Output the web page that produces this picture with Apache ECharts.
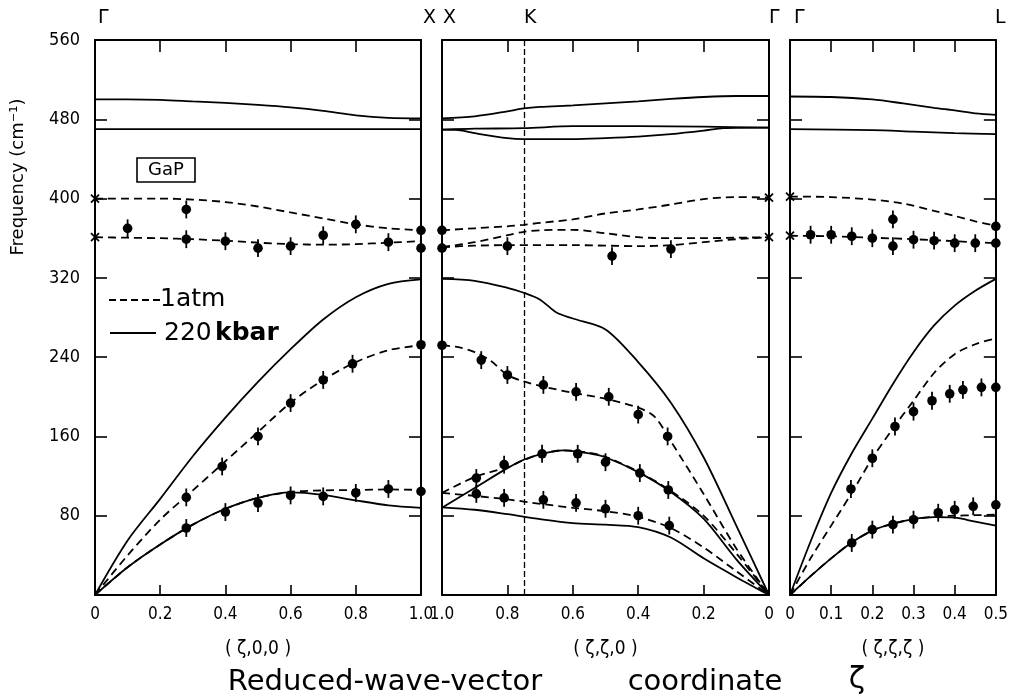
<!DOCTYPE html>
<html>
<head>
<meta charset="utf-8">
<script src="https://cdn.jsdelivr.net/npm/echarts@6/dist/echarts.min.js"></script>
<style>
  html, body { margin: 0; padding: 0; background: #fff; }
  #chart { width: 1011px; height: 698px; }
</style>
</head>
<body>
<div id="chart"></div>
<script>
// GaP phonon dispersion, 1 atm (dashed) vs 220 kbar (solid)
const FONT = "'DejaVu Sans Condensed','DejaVu Sans',sans-serif";
const WIDE = "'DejaVu Sans',sans-serif";

// ---- panel 1: (z,0,0), Gamma -> X ----
const p1Lo220 = [[0,500],[0.1,500],[0.2,499.5],[0.3,498],[0.4,496.5],[0.5,494.5],[0.6,492],[0.7,488.5],[0.8,484],[0.9,481.5],[1.0,481]];
const p1To220 = [[0,470],[0.5,470],[1.0,470]];
const p1OptUp1 = [[0,400],[0.2,400],[0.3,399],[0.4,396.5],[0.5,392],[0.6,386],[0.7,380],[0.8,374],[0.9,370],[1.0,368]];
const p1OptLo1 = [[0,361],[0.1,360.5],[0.2,360],[0.3,359],[0.4,357.5],[0.5,355.5],[0.6,354],[0.7,353.5],[0.8,354],[0.9,355.5],[1.0,357]];
const p1La220 = [[0,0],[0.1,55],[0.2,97],[0.3,140],[0.4,179],[0.5,215],[0.6,248],[0.7,278],[0.8,300.5],[0.9,314],[1.0,318.5]];
const p1La1 = [[0,0],[0.1,40],[0.2,76],[0.3,105.5],[0.4,135],[0.5,164.5],[0.6,194],[0.7,217],[0.8,235],[0.9,247],[1.0,252]];
const p1Ta220 = [[0,0],[0.1,28],[0.2,51],[0.3,71],[0.4,87],[0.5,98],[0.6,103.5],[0.7,101],[0.8,95.5],[0.9,90.5],[1.0,88]];
const p1Ta1 = [[0,0],[0.1,28],[0.2,51],[0.3,71],[0.4,87],[0.5,98],[0.6,104],[0.7,105.5],[0.8,106],[0.9,106.5],[1.0,106]];
const p1Points = [[0.1,370],[0.28,389],[0.28,359],[0.4,357],[0.5,350],[0.6,352],[0.7,363],[0.8,374],[0.9,356],[1.0,368],[1.0,350],
  [0.28,98.5],[0.39,129.7],[0.5,160],[0.6,193.7],[0.7,217],[0.79,233.3],[1.0,252.5],
  [0.28,67.6],[0.4,83.7],[0.5,92.8],[0.6,100.5],[0.7,99.5],[0.8,103],[0.9,107],[1.0,104.5]];
const p1Cross = [[0,400],[0,361]];

// ---- panel 2: (z,z,0), X -> K -> Gamma (reversed axis) ----
const p2Lo220 = [[1.0,481],[0.9,483],[0.8,488],[0.75,491],[0.7,492.5],[0.6,494],[0.5,496],[0.4,498],[0.3,500.5],[0.2,502.5],[0.1,503.5],[0,503.5]];
const p2ToA220 = [[1.0,469.5],[0.9,470.5],[0.75,471],[0.6,473],[0.4,473],[0.2,472.5],[0,471.5]];
const p2ToB220 = [[1.0,469.5],[0.95,469],[0.9,466],[0.8,461],[0.75,460],[0.6,460],[0.5,461],[0.4,462.5],[0.3,465],[0.2,468.5],[0.14,471],[0,471.5]];
const p2OptUp1 = [[1.0,368],[0.9,370],[0.8,372],[0.75,373.5],[0.7,375.5],[0.6,379],[0.5,385],[0.4,389],[0.3,394],[0.2,399.5],[0.1,401.5],[0,401]];
const p2OptMid1 = [[1.0,351],[0.9,356],[0.8,363],[0.75,366.5],[0.7,368],[0.6,368.5],[0.5,365],[0.4,361],[0.3,360],[0.2,360],[0.1,360.5],[0,361]];
const p2OptLo1 = [[1.0,351],[0.9,352.5],[0.8,353],[0.6,353],[0.4,352],[0.3,353],[0.2,356],[0.1,359],[0,361]];
const p2La220 = [[1.0,319],[0.9,317],[0.8,310],[0.75,305],[0.7,298],[0.65,285],[0.6,279],[0.5,268],[0.4,235],[0.3,194],[0.2,139],[0.1,70],[0,0]];
const p2La1 = [[1.0,252],[0.95,250],[0.9,245],[0.85,236],[0.8,222],[0.75,215.5],[0.7,211],[0.6,204],[0.5,198],[0.4,189],[0.35,180],[0.3,155],[0.2,102],[0.1,47],[0,0]];
const p2Ta2_220 = [[1.0,88],[0.9,108],[0.8,128],[0.75,136.5],[0.7,142],[0.63,146],[0.55,143],[0.5,139],[0.4,124],[0.3,104],[0.2,77],[0.1,36],[0,0]];
const p2Ta2_1 = [[1.0,103],[0.9,119],[0.8,129],[0.75,136],[0.7,142],[0.63,146],[0.55,143.5],[0.5,139.5],[0.4,124.5],[0.3,105],[0.2,80],[0.1,42],[0,0]];
const p2Ta1_1 = [[1.0,103],[0.9,100],[0.8,96.5],[0.7,92],[0.6,88],[0.5,84.5],[0.4,79],[0.3,67.5],[0.2,48],[0.1,24],[0,0]];
const p2Ta1_220 = [[1.0,88.5],[0.9,86],[0.8,81.5],[0.7,76.5],[0.6,72.5],[0.5,71],[0.4,68.5],[0.3,58],[0.2,37],[0.1,18],[0,0]];
const p2Points = [[0.8,352],[0.48,342],[0.3,349],[1.0,368],[1.0,350],
  [0.88,237],[0.8,222],[0.69,212],[0.59,205],[0.49,200],[0.4,182],[0.31,160],
  [0.895,118],[0.81,131.5],[0.694,142.5],[0.585,142.5],[0.5,134],[0.395,123],[0.308,106],
  [0.895,102],[0.81,98],[0.69,96],[0.59,93],[0.5,87],[0.4,80],[0.305,70],[1.0,252]];
const p2Cross = [[0,401],[0,361]];
const kPoint = 0.75;

// ---- panel 3: (z,z,z), Gamma -> L ----
const p3Lo220 = [[0,503],[0.1,502.5],[0.2,500],[0.275,496],[0.35,491.5],[0.4,489],[0.45,486],[0.5,484.5]];
const p3To220 = [[0,470],[0.2,469],[0.3,467.5],[0.4,466],[0.5,465]];
const p3OptUp1 = [[0,402],[0.1,401.5],[0.2,399],[0.275,395],[0.35,387.5],[0.4,382.5],[0.45,377],[0.5,372.5]];
const p3OptLo1 = [[0,362.5],[0.1,362],[0.2,360.5],[0.3,359],[0.4,357],[0.5,355]];
const p3La220 = [[0,0],[0.05,54],[0.1,103],[0.15,143],[0.2,178],[0.25,213],[0.3,245],[0.35,272],[0.4,292],[0.45,307],[0.5,319]];
const p3La1 = [[0,0],[0.05,37],[0.1,70],[0.15,103],[0.2,138],[0.25,168],[0.3,196],[0.35,224],[0.4,243],[0.45,253],[0.5,259]];
const p3Ta220 = [[0,0],[0.05,19],[0.1,37],[0.15,53],[0.2,65],[0.25,72],[0.3,76.5],[0.35,78.5],[0.4,78],[0.45,74],[0.5,70]];
const p3Ta1 = [[0,0],[0.05,19],[0.1,37],[0.15,53],[0.2,65],[0.25,72],[0.3,76.5],[0.35,79],[0.4,80],[0.45,80.5],[0.5,81]];
const p3Points = [[0.05,363.5],[0.1,363.5],[0.15,362],[0.2,360],[0.25,379],[0.25,352],[0.3,358.5],[0.35,357.5],[0.4,355],[0.45,355],[0.5,372],[0.5,355],
  [0.148,107],[0.2,138],[0.255,170],[0.3,185],[0.345,196],[0.388,203],[0.42,207],[0.465,209.5],[0.5,209.5],
  [0.15,52.5],[0.2,66],[0.25,71],[0.3,76],[0.36,83],[0.4,86],[0.445,89.5],[0.5,91]];
const p3Cross = [[0,402],[0,362.5]];

const yTicks = [0, 80, 160, 240, 320, 400, 480, 560];
const errBar = 9;

const chart = echarts.init(document.getElementById('chart'));

const axisLine = { onZero: false, lineStyle: { color: '#000', width: 2 } };
const tickStyle = { color: '#000', width: 1.6 };

function xAxes(gi, max, interval, inverse, name) {
  const fmt = v => (v === 0 ? '0' : v.toFixed(1));
  return [
    {
      type: 'value', gridIndex: gi, min: 0, max: max, interval: interval, inverse: inverse,
      position: 'bottom', axisLine: axisLine,
      axisTick: { inside: true, length: 10, lineStyle: tickStyle },
      axisLabel: { color: '#000', fontSize: 17, fontFamily: FONT, margin: 11, formatter: fmt },
      splitLine: { show: false },
      name: name, nameLocation: 'middle', nameGap: 45,
      nameTextStyle: { color: '#000', fontSize: 19, fontFamily: FONT }
    },
    {
      type: 'value', gridIndex: gi, min: 0, max: max, interval: interval, inverse: inverse,
      position: 'top', axisLine: axisLine,
      axisTick: { inside: true, length: 12, lineStyle: tickStyle },
      axisLabel: { show: false }, splitLine: { show: false }
    }
  ];
}

function yAxes(gi, labels) {
  return [
    {
      type: 'value', gridIndex: gi, min: yTicks[0], max: yTicks[yTicks.length - 1], interval: 80,
      position: 'left', axisLine: axisLine,
      axisTick: { inside: true, length: 12, lineStyle: tickStyle },
      axisLabel: { show: labels, color: '#000', fontSize: 18, fontFamily: FONT, margin: 15,
        formatter: v => (v === 0 ? '' : String(v)) },
      splitLine: { show: false }
    },
    {
      type: 'value', gridIndex: gi, min: yTicks[0], max: yTicks[yTicks.length - 1], interval: 80,
      position: 'right', axisLine: axisLine,
      axisTick: { inside: true, length: 12, lineStyle: tickStyle },
      axisLabel: { show: false }, splitLine: { show: false }
    }
  ];
}

function curve(gi, data, dashed) {
  return {
    type: 'line', xAxisIndex: 2 * gi, yAxisIndex: 2 * gi, data: data,
    smooth: 0.3, symbol: 'none', silent: true,
    lineStyle: { color: '#000', width: 1.8, type: dashed ? [8, 5] : 'solid' }
  };
}

function points(gi, data) {
  return {
    type: 'custom', xAxisIndex: 2 * gi, yAxisIndex: 2 * gi, data: data, silent: true,
    renderItem: function (params, api) {
      const x = api.value(0), y = api.value(1);
      const c = api.coord([x, y]);
      const t = api.coord([x, y + errBar]);
      const b = api.coord([x, y - errBar]);
      return {
        type: 'group',
        children: [
          { type: 'line', shape: { x1: c[0], y1: t[1], x2: c[0], y2: b[1] }, style: { stroke: '#000', lineWidth: 1.8 } },
          { type: 'circle', shape: { cx: c[0], cy: c[1], r: 4.8 }, style: { fill: '#000' } }
        ]
      };
    }
  };
}

function crosses(gi, data) {
  return {
    type: 'custom', xAxisIndex: 2 * gi, yAxisIndex: 2 * gi, data: data, silent: true,
    renderItem: function (params, api) {
      const c = api.coord([api.value(0), api.value(1)]);
      const s = 4;
      const st = { stroke: '#000', lineWidth: 1.8 };
      return {
        type: 'group',
        children: [
          { type: 'line', shape: { x1: c[0] - s, y1: c[1] - s, x2: c[0] + s, y2: c[1] + s }, style: st },
          { type: 'line', shape: { x1: c[0] - s, y1: c[1] + s, x2: c[0] + s, y2: c[1] - s }, style: st }
        ]
      };
    }
  };
}

const kLine = curve(1, [], false);
kLine.markLine = {
  silent: true, symbol: 'none', label: { show: false },
  lineStyle: { color: '#000', width: 1.3, type: [6, 3] },
  data: [{ xAxis: kPoint }]
};

const topLabel = (x, t) => ({
  type: 'text', left: x, top: 9,
  style: { text: t, fontSize: 19, fontFamily: WIDE, fill: '#000', textAlign: 'center' }
});

const option = {
  animation: false,
  backgroundColor: '#fff',
  grid: [
    { left: 95, top: 40, width: 326, height: 555 },
    { left: 442, top: 40, width: 327, height: 555 },
    { left: 790, top: 40, width: 206, height: 555 }
  ],
  xAxis: [].concat(
    xAxes(0, 1.0, 0.2, false, '( ζ,0,0 )'),
    xAxes(1, 1.0, 0.2, true, '( ζ,ζ,0 )'),
    xAxes(2, 0.5, 0.1, false, '( ζ,ζ,ζ )')
  ),
  yAxis: [].concat(yAxes(0, true), yAxes(1, false), yAxes(2, false)),
  series: [
    curve(0, p1Lo220, false), curve(0, p1To220, false),
    curve(0, p1OptUp1, true), curve(0, p1OptLo1, true),
    curve(0, p1La220, false), curve(0, p1La1, true),
    curve(0, p1Ta220, false), curve(0, p1Ta1, true),
    points(0, p1Points), crosses(0, p1Cross),

    curve(1, p2Lo220, false), curve(1, p2ToA220, false), curve(1, p2ToB220, false),
    curve(1, p2OptUp1, true), curve(1, p2OptMid1, true), curve(1, p2OptLo1, true),
    curve(1, p2La220, false), curve(1, p2La1, true),
    curve(1, p2Ta2_220, false), curve(1, p2Ta2_1, true),
    curve(1, p2Ta1_220, false), curve(1, p2Ta1_1, true),
    points(1, p2Points), crosses(1, p2Cross), kLine,

    curve(2, p3Lo220, false), curve(2, p3To220, false),
    curve(2, p3OptUp1, true), curve(2, p3OptLo1, true),
    curve(2, p3La220, false), curve(2, p3La1, true),
    curve(2, p3Ta220, false), curve(2, p3Ta1, true),
    points(2, p3Points), crosses(2, p3Cross)
  ],
  graphic: [
    {
      type: 'text', x: 18, y: 177, rotation: Math.PI / 2,
      style: { text: 'Frequency (cm⁻¹)', fontSize: 18, fontFamily: WIDE, fill: '#000',
        textAlign: 'center', textVerticalAlign: 'middle' }
    },
    { type: 'rect', shape: { x: 137, y: 158, width: 58, height: 24 }, style: { fill: 'none', stroke: '#000', lineWidth: 1.6 } },
    { type: 'text', x: 166, y: 170, style: { text: 'GaP', fontSize: 18, fontFamily: WIDE, fill: '#000', textAlign: 'center', textVerticalAlign: 'middle' } },
    { type: 'line', shape: { x1: 109, y1: 300, x2: 160, y2: 300 }, style: { stroke: '#000', lineWidth: 1.8, lineDash: [7, 4] } },
    { type: 'text', x: 160, y: 299, style: { text: '1atm', fontSize: 25, fontFamily: WIDE, fill: '#000', textVerticalAlign: 'middle' } },
    { type: 'line', shape: { x1: 110, y1: 333, x2: 156, y2: 333 }, style: { stroke: '#000', lineWidth: 1.8 } },
    {
      type: 'text', x: 164, y: 333,
      style: {
        text: '{a|220} {b|kbar}', textVerticalAlign: 'middle',
        rich: {
          a: { fontSize: 25, fontFamily: WIDE, fill: '#000' },
          b: { fontSize: 25, fontFamily: WIDE, fontWeight: 'bold', fill: '#000' }
        }
      }
    },
    topLabel(98, 'Γ'), topLabel(423, 'X'), topLabel(443, 'X'), topLabel(524, 'K'),
    topLabel(769, 'Γ'), topLabel(794, 'Γ'), topLabel(995, 'L'),
    { type: 'text', x: 385, y: 682, style: { text: 'Reduced-wave-vector', fontSize: 29, fontFamily: WIDE, fill: '#000', textAlign: 'center', textVerticalAlign: 'middle' } },
    { type: 'text', x: 705, y: 682, style: { text: 'coordinate', fontSize: 29, fontFamily: WIDE, fill: '#000', textAlign: 'center', textVerticalAlign: 'middle' } },
    { type: 'text', x: 857, y: 680, style: { text: 'ζ', fontSize: 30, fontFamily: WIDE, fill: '#000', textAlign: 'center', textVerticalAlign: 'middle' } }
  ]
};

chart.setOption(option);
</script>
</body>
</html>
